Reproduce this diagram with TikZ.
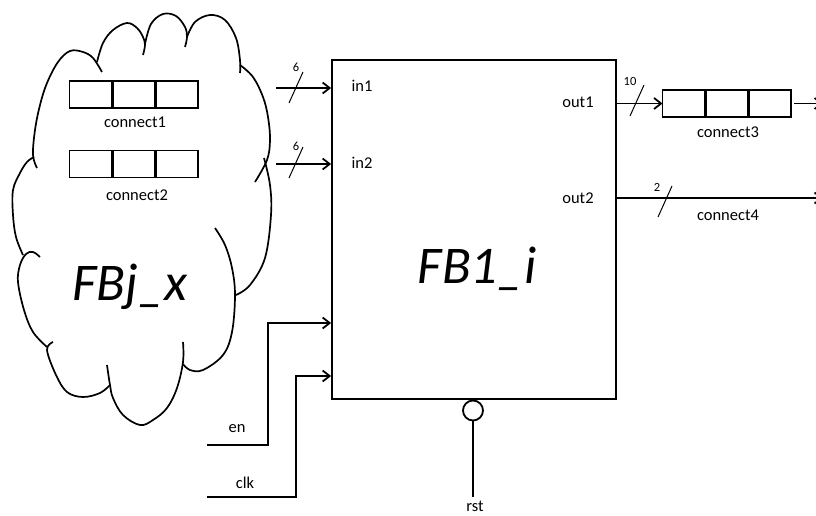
\documentclass[tikz,border=0pt]{standalone}
\usepackage{fontspec}
\setmainfont{Carlito}
\usetikzlibrary{positioning,arrows.meta}
\tikzset{
  sig/.style={line width=1.8pt,-{Straight Barb[length=7pt,width=11pt]}},
  wire/.style={line width=1.8pt},
  tick/.style={line width=1pt},
  puff/.style={line width=1.7pt,smooth,tension=0.6},
  cell/.style={draw,line width=1.7pt,minimum width=42pt,minimum height=27pt,inner sep=0pt,outer sep=0pt},
  lbl/.style={font=\fontsize{16.5}{18}\selectfont,anchor=base,inner sep=0pt},
  bus/.style={font=\fontsize{12.5}{14}\selectfont,anchor=base,inner sep=0pt},
  fbname/.style={font=\fontsize{53}{60}\selectfont\itshape,anchor=base,inner sep=0pt},
}
\begin{document}
\begin{tikzpicture}[x=1pt,y=-1pt]
\useasboundingbox (0,0) rectangle (816,516);
% cloud FBj_x
\draw[puff] plot coordinates {(37,168) (33,155) (35,130) (40,105) (47,83) (58,62) (70,51) (83,52) (93,58) (102,72)};
\draw[puff] plot coordinates {(97,62) (103,43) (113,30) (127,23) (137,28) (143,37) (145,45) (143,55)};
\draw[puff] plot coordinates {(145,44) (151,24) (163,14) (176,16) (185,27) (187,37) (185,47)};
\draw[puff] plot coordinates {(187,37) (195,22) (210,15) (225,20) (236,38) (240,60) (240,73)};
\draw[puff] plot coordinates {(240,65) (253,77) (263,97) (268,117) (270,140) (267,160) (255,182)};
\draw[puff] plot coordinates {(264,158) (270,185) (271,215) (265,258) (250,285) (236,295)};
\draw[puff] plot coordinates {(215,228) (225,245) (232,268) (235,295) (232,332) (223,355) (203,370) (190,370) (183,364)};
\draw[puff] plot coordinates {(183,342) (183,362) (177,388) (167,408) (153,420) (140,425) (123,415) (113,398) (110,385) (107,365)};
\draw[puff] plot coordinates {(110,385) (100,393) (83,397) (67,392) (56,375) (47,350) (53,342)};
\draw[puff] plot coordinates {(47,347) (33,332) (24,310) (18,282) (20,265) (26,254) (33,252) (40,257)};
\draw[puff] plot coordinates {(23,255) (16,237) (13,215) (13,190) (20,173) (27,162) (34,157)};
\node[fbname] (fbjx) at (130,300) {FBj\_x};

% connect1, connect2
\node[cell] (c1a) at (90.5,94.5) {};
\node[cell,right=1.4pt of c1a] (c1b) {};
\node[cell,right=1.4pt of c1b] (c1c) {};
\node[lbl] (c1lbl) at (135,128) {connect1};
\node[cell] (c2a) at (90.5,164) {};
\node[cell,right=1.4pt of c2a] (c2b) {};
\node[cell,right=1.4pt of c2b] (c2c) {};
\node[lbl] (c2lbl) at (137,200) {connect2};

% block FB1_i
\node[draw,line width=1.8pt,minimum width=284pt,minimum height=339pt,inner sep=0pt] (fb) at (474,229.5) {};
\node[fbname] (fbname) at (477,283) {FB1\_i};
\node[lbl] (in1) at (362,92) {in1};
\node[lbl] (in2) at (362,168) {in2};
\node[lbl] (out1) at (578,108) {out1};
\node[lbl] (out2) at (578,203) {out2};

% inputs
\coordinate (in1src) at (276,88);
\coordinate (in2src) at (276,164);
\draw[sig] (in1src) -- (fb.west |- in1src);
\draw[sig] (in2src) -- (fb.west |- in2src);
\draw[tick] (289,103) -- (303,72);
\draw[tick] (289,178) -- (303,147);
\node[bus] (w1) at (296,72) {6};
\node[bus] (w2) at (296,150) {6};

% outputs
\node[cell] (c3a) at (683.5,103.5) {};
\node[cell,right=1.4pt of c3a] (c3b) {};
\node[cell,right=1.4pt of c3b] (c3c) {};
\node[lbl] (c3lbl) at (728,137) {connect3};
\coordinate (c3out) at (823,103.5);
\draw[sig] (fb.east |- c3a) -- (c3a.west);
\draw[sig,shorten <=2.5pt] (c3c.east) -- (c3out);
\draw[tick] (630,116) -- (644,85);
\node[bus] (w3) at (630,86) {10};

\coordinate (o2out) at (823,198);
\draw[sig] (fb.east |- o2out) -- (o2out);
\draw[tick] (658,217) -- (672,186);
\node[bus] (w4) at (657,191) {2};
\node[lbl] (c4lbl) at (728,220) {connect4};

% en, clk, rst
\coordinate (enstart) at (207,445);
\coordinate (enbend) at (268,323);
\draw[sig] (enstart) -| (enbend) -- (fb.west |- enbend);
\node[lbl] (en) at (237,432) {en};
\coordinate (clkstart) at (207,497);
\coordinate (clkbend) at (296,376);
\draw[sig] (clkstart) -| (clkbend) -- (fb.west |- clkbend);
\node[lbl] (clk) at (245,488) {clk};
\node[draw,circle,line width=1.8pt,minimum size=20pt,inner sep=0pt] (rstc) at (473,410.5) {};
\coordinate (rstend) at (473,497);
\draw[wire] (rstc.south) -- (rstend);
\node[lbl] (rst) at (475,511) {rst};
\end{tikzpicture}
\end{document}
